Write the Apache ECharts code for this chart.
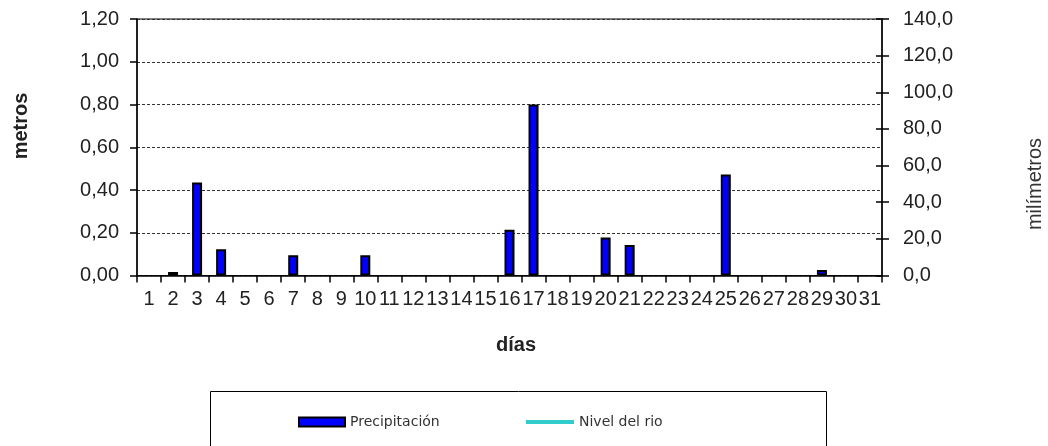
<!DOCTYPE html>
<html>
<head>
<meta charset="utf-8">
<script src="https://cdn.jsdelivr.net/npm/echarts@6/dist/echarts.min.js"></script>
<style>
html,body{margin:0;padding:0;background:#fff;}
#chart{width:1048px;height:446px;}
</style>
</head>
<body>
<div id="chart"></div>
<script>
var dias = ['1','2','3','4','5','6','7','8','9','10','11','12','13','14','15','16','17','18','19','20','21','22','23','24','25','26','27','28','29','30','31'];
// days without a visible bar are left empty (null)
var precipitacion = [null, 1.9, 50.8, 14.3, null, null, 11.0, null, null, 11.0, null, null, null, null, null, 25.0, 93.3, null, null, 20.8, 16.6, null, null, null, 55.1, null, null, null, 3.0, null, null];
var nivelRio = [];
var metrosTicks = ['0,00','0,20','0,40','0,60','0,80','1,00','1,20'];
var mmTicks = ['0,0','20,0','40,0','60,0','80,0','100,0','120,0','140,0'];

var chart = echarts.init(document.getElementById('chart'), null, {renderer:'canvas'});
var labelFont = {fontFamily:'Liberation Sans', fontSize:20, color:'#222'};
var legendText = {fontFamily:'DejaVu Sans', fontSize:14, color:'#333'};

chart.setOption({
  animation:false,
  backgroundColor:'#fff',
  grid:{left:137, right:166, top:19, bottom:170.5, show:true, borderColor:'#000', borderWidth:1, backgroundColor:'transparent'},
  legend:[
    {
      left:298, top:415, padding:0, itemWidth:46, itemHeight:9,
      textStyle:legendText,
      data:[{name:'Precipitación', icon:'rect', itemStyle:{color:'#0000FF', borderColor:'#000', borderWidth:2}}]
    },
    {
      left:526, top:415, padding:0, itemWidth:48, itemHeight:4,
      textStyle:legendText,
      data:[{name:'Nivel del rio', icon:'rect', itemStyle:{color:'#33CCCC', borderWidth:0}}]
    }
  ],
  xAxis:{
    type:'category', data:dias, boundaryGap:true,
    axisLine:{lineStyle:{color:'#000', width:1.5}},
    axisTick:{show:true, length:7, alignWithLabel:false, lineStyle:{color:'#000', width:1.5}},
    axisLabel:Object.assign({margin:14, interval:0}, labelFont),
    splitLine:{show:false}
  },
  yAxis:[
    {
      type:'value', min:0, max:1.2, interval:0.2, position:'left',
      axisLine:{show:true, lineStyle:{color:'#000', width:1.5}},
      axisTick:{show:true, length:7, lineStyle:{color:'#000', width:1.5}},
      axisLabel:Object.assign({margin:18, formatter:function(v){return metrosTicks[Math.round(v/0.2)];}}, labelFont),
      splitLine:{show:true, lineStyle:{color:'#333', width:1, type:[3,2]}}
    },
    {
      type:'value', min:0, max:140, interval:20, position:'right',
      axisLine:{show:true, lineStyle:{color:'#000', width:1.5}},
      axisTick:{show:true, length:7, lineStyle:{color:'#000', width:1.5}},
      axisLabel:Object.assign({margin:21, formatter:function(v){return mmTicks[Math.round(v/20)];}}, labelFont),
      splitLine:{show:false}
    },
    {
      type:'value', min:0, max:140, interval:20, position:'right',
      axisLine:{show:false},
      axisTick:{show:true, inside:true, length:6, lineStyle:{color:'#000', width:1.5}},
      axisLabel:{show:false},
      splitLine:{show:false}
    }
  ],
  series:[
    {
      name:'Precipitación', type:'bar', yAxisIndex:1, data:precipitacion, barWidth:10,
      itemStyle:{color:'#0000FF', borderColor:'#000', borderWidth:2}
    },
    {
      name:'Nivel del rio', type:'line', yAxisIndex:0, data:nivelRio, symbol:'none',
      itemStyle:{color:'#33CCCC'},
      lineStyle:{color:'#33CCCC', width:4}
    }
  ],
  graphic:[
    {type:'text', x:21, y:126, rotation:Math.PI/2, style:{text:'metros', fontFamily:'Liberation Sans', fontSize:20, fontWeight:'bold', fill:'#222', align:'center', verticalAlign:'middle'}},
    {type:'text', x:516, y:345, style:{text:'días', fontFamily:'Liberation Sans', fontSize:20, fontWeight:'bold', fill:'#222', align:'center', verticalAlign:'middle'}},
    {type:'text', x:1035, y:184, rotation:Math.PI/2, style:{text:'milímetros', fontFamily:'Liberation Sans', fontSize:20, fill:'#333', align:'center', verticalAlign:'middle'}},
    {type:'rect', shape:{x:210.5, y:391.5, width:616, height:80}, style:{fill:'none', stroke:'#000', lineWidth:1}, z:-1}
  ]
});
</script>
</body>
</html>
